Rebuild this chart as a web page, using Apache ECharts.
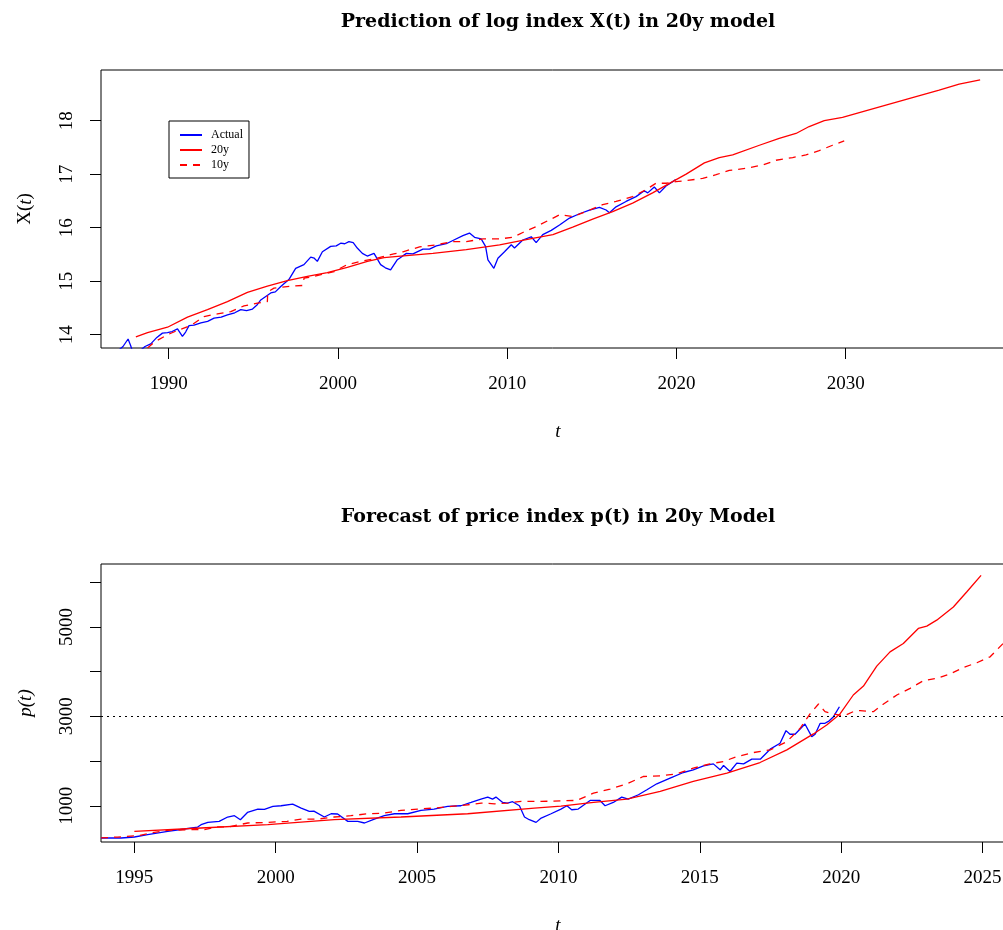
<!DOCTYPE html>
<html>
<head>
<meta charset="utf-8">
<script src="https://cdn.jsdelivr.net/npm/echarts@6/dist/echarts.min.js"></script>
<style>
html,body{margin:0;padding:0;background:#fff;overflow:hidden;}
#c{width:1003px;height:930px;}
</style>
</head>
<body>
<div id="c"></div>
<script>
// ---------- Top chart: log index X(t) ----------
const topActualT = [1987.0,1987.3,1987.6,1987.75,1987.9,1988.3,1988.6,1988.94,1989.3,1989.63,1989.93,1990.2,1990.52,1990.81,1991.0,1991.2,1991.5,1991.9,1992.3,1992.68,1993.1,1993.47,1993.9,1994.26,1994.6,1994.95,1995.2,1995.44,1996.03,1996.3,1996.62,1997.1,1997.5,1997.99,1998.39,1998.6,1998.78,1999.08,1999.57,1999.9,2000.16,2000.4,2000.65,2000.9,2001.14,2001.44,2001.73,2002.13,2002.52,2002.8,2003.11,2003.5,2003.64,2004.04,2004.43,2005.02,2005.41,2005.81,2006.4,2006.79,2007.38,2007.77,2008.07,2008.46,2008.72,2008.86,2009.21,2009.45,2009.84,2010.24,2010.43,2010.92,2011.42,2011.71,2012.1,2012.6,2013.09,2013.68,2014.27,2014.86,2015.45,2015.84,2016.04,2016.43,2017.02,2017.61,2018.1,2018.3,2018.69,2018.99,2019.38,2019.87,2019.95];
const topActualX = [13.70,13.78,13.92,13.80,13.65,13.70,13.78,13.83,13.95,14.03,14.04,14.06,14.11,13.97,14.05,14.17,14.18,14.22,14.25,14.31,14.33,14.37,14.41,14.47,14.45,14.48,14.55,14.65,14.78,14.80,14.90,15.03,15.24,15.31,15.45,15.43,15.37,15.55,15.65,15.66,15.71,15.70,15.74,15.72,15.62,15.52,15.47,15.52,15.31,15.25,15.21,15.40,15.43,15.52,15.51,15.60,15.60,15.66,15.70,15.76,15.85,15.90,15.82,15.79,15.65,15.40,15.24,15.43,15.55,15.68,15.62,15.77,15.83,15.72,15.87,15.95,16.05,16.18,16.26,16.33,16.38,16.33,16.28,16.39,16.49,16.58,16.69,16.65,16.76,16.65,16.78,16.88,16.90];

const top20T = [1988.06,1988.75,1989.93,1991.11,1992.29,1993.47,1994.65,1995.83,1997.01,1998.19,1999.37,2000.55,2001.74,2002.72,2003.7,2005.61,2007.58,2009.55,2011.5,2012.7,2013.87,2015.05,2016.23,2017.41,2018.59,2019.77,2020.57,2021.65,2022.53,2023.32,2024.9,2026.07,2027.06,2027.84,2028.73,2029.81,2030.8,2032.37,2033.94,2035.52,2036.7,2037.94];
const top20X = [13.96,14.04,14.14,14.33,14.47,14.62,14.79,14.91,15.01,15.09,15.16,15.26,15.37,15.44,15.47,15.52,15.59,15.68,15.80,15.87,16.01,16.16,16.30,16.46,16.65,16.86,17.00,17.21,17.31,17.36,17.54,17.67,17.76,17.89,18.00,18.06,18.15,18.29,18.43,18.57,18.68,18.76];

const top10T = [1988.75,1989.14,1989.93,1990.52,1991.3,1992.09,1992.88,1993.67,1994.45,1995.24,1995.83,1995.85,1996.22,1996.72,1997.27,1997.9,1998.0,1998.3,1999.77,2000.55,2001.34,2002.32,2003.3,2003.84,2004.82,2005.81,2006.79,2007.58,2008.56,2009.55,2010.33,2010.92,2011.71,2012.4,2013.09,2013.87,2014.66,2015.64,2016.43,2017.41,2018.2,2018.79,2019.38,2019.97,2020.57,2021.55,2022.34,2023.12,2024.11,2025.09,2025.88,2026.86,2027.65,2028.43,2029.22,2029.91];
const top10X = [13.75,13.86,14.00,14.08,14.17,14.34,14.39,14.43,14.54,14.59,14.62,14.80,14.87,14.89,14.91,14.92,15.06,15.07,15.18,15.31,15.37,15.43,15.51,15.55,15.64,15.68,15.74,15.74,15.79,15.79,15.82,15.91,16.02,16.13,16.24,16.21,16.30,16.43,16.49,16.58,16.71,16.83,16.83,16.86,16.88,16.92,16.99,17.07,17.11,17.17,17.26,17.31,17.36,17.44,17.54,17.62];

const topXTicks = [1990,2000,2010,2020,2030];
const topYTicks = [14,15,16,17,18];

// ---------- Bottom chart: price index p(t) ----------
const botActualT = [1993.82,1994.53,1995.0,1995.47,1996.18,1996.77,1997.24,1997.36,1997.6,1998.0,1998.3,1998.54,1998.75,1999.0,1999.37,1999.6,1999.9,2000.19,2000.6,2000.9,2001.19,2001.35,2001.72,2001.96,2002.19,2002.55,2002.9,2003.14,2003.49,2003.84,2004.2,2004.67,2005.14,2005.6,2006.08,2006.55,2006.91,2007.26,2007.5,2007.67,2007.79,2008.03,2008.2,2008.38,2008.62,2008.8,2008.97,2009.21,2009.39,2009.74,2010.09,2010.3,2010.47,2010.7,2011.12,2011.47,2011.65,2011.94,2012.24,2012.47,2012.83,2013.13,2013.48,2013.95,2014.42,2014.77,2015.13,2015.48,2015.72,2015.84,2016.07,2016.31,2016.55,2016.84,2017.14,2017.49,2017.84,2018.05,2018.19,2018.37,2018.72,2018.96,2019.08,2019.26,2019.43,2019.58,2019.73,2019.94];
const botActualP = [279,279,301,353,426,480,524,576,628,650,748,777,688,850,926,920,985,1000,1037,948,873,880,748,821,815,650,650,614,703,777,821,821,895,926,985,1000,1074,1149,1194,1149,1194,1074,1060,1090,1000,748,688,628,725,821,926,1000,911,926,1119,1119,1000,1074,1194,1149,1246,1357,1491,1618,1744,1804,1893,1937,1804,1900,1766,1953,1937,2042,2042,2266,2399,2681,2600,2600,2830,2547,2600,2845,2845,2900,2993,3216];

const bot20T = [1995.0,1997.36,1999.72,2002.07,2004.43,2006.79,2009.15,2010.09,2011.24,2012.42,2013.6,2014.77,2015.96,2017.13,2018.08,2019.02,2019.49,2019.96,2020.43,2020.79,2021.26,2021.73,2022.2,2022.73,2023.03,2023.38,2023.97,2024.44,2024.95];
const bot20P = [426,502,576,688,748,821,949,990,1074,1149,1320,1543,1729,1967,2250,2607,2808,3054,3478,3678,4125,4444,4631,4966,5018,5152,5448,5783,6156];

const bot10T = [1993.82,1994.4,1995.12,1995.7,1996.18,1996.89,1997.48,1997.9,1998.3,1999.01,1999.7,2000.4,2000.9,2001.5,2002.07,2002.66,2003.26,2003.84,2004.43,2005.02,2005.6,2006.2,2006.8,2007.27,2007.74,2008.2,2008.68,2009.39,2010.09,2010.65,2011.24,2011.83,2012.42,2013.0,2013.6,2014.18,2014.77,2015.36,2015.83,2016.31,2016.9,2017.49,2018.08,2018.55,2018.9,2019.2,2019.43,2019.73,2020.08,2020.43,2020.67,2021.14,2021.5,2021.97,2022.44,2022.91,2023.38,2023.85,2024.33,2024.8,2025.27,2025.73,2026.5];
const bot10P = [280,300,330,404,450,464,464,530,524,614,628,650,703,703,748,777,821,836,895,926,948,985,1022,1060,1044,1060,1097,1097,1110,1119,1283,1372,1491,1655,1670,1714,1841,1937,1989,2100,2190,2250,2435,2734,3054,3277,3105,3054,3009,3105,3130,3105,3277,3478,3627,3797,3850,3946,4096,4199,4333,4631,4950];

const botXTicks = [1995,2000,2005,2010,2015,2020,2025];
const botYTicks = [1000,2000,3000,4000,5000,6000];
const botYLabels = [1000,3000,5000];
const refLevel = 3000;

const titles = ['Prediction of log index X(t) in 20y model', 'Forecast of price index p(t) in 20y Model'];

// ---------- helpers ----------
const pairs = (a, b) => a.map((v, i) => [v, b[i]]);
const FONT = '"Liberation Serif", "DejaVu Serif", serif';
const TFONT = '"DejaVu Serif", serif';
const BLUE = '#0000FF', RED = '#FF0000';
const plain = v => String(v);

function xAxisCfg(grid, min, max, ticks) {
  return {
    type: 'value', gridIndex: grid, min: min, max: max,
    axisLine: { show: false },
    splitLine: { show: false },
    axisTick: { show: true, inside: false, length: 11, customValues: ticks, lineStyle: { color: '#000', width: 1 } },
    axisLabel: { customValues: ticks, formatter: plain, margin: 27, color: '#000', fontFamily: FONT, fontSize: 19, showMinLabel: true, showMaxLabel: true },
    name: 't', nameLocation: 'middle', nameGap: 74,
    nameTextStyle: { fontFamily: FONT, fontSize: 19, fontStyle: 'italic', color: '#000' }
  };
}
function yAxisCfg(grid, min, max, ticks, labels, name, rich) {
  return {
    type: 'value', gridIndex: grid, min: min, max: max,
    axisLine: { show: false },
    splitLine: { show: false },
    axisTick: { show: true, inside: false, length: 11, customValues: ticks, lineStyle: { color: '#000', width: 1 } },
    axisLabel: { customValues: labels, formatter: plain, margin: 24, rotate: 90, color: '#000', fontFamily: FONT, fontSize: 19, showMinLabel: true, showMaxLabel: true },
    name: name, nameLocation: 'middle', nameGap: 66, nameRotate: 90,
    nameTextStyle: { fontFamily: FONT, fontSize: 19, color: '#000', rich: rich }
  };
}
function line(name, data, xi, color, dashed) {
  return {
    name: name, type: 'line', xAxisIndex: xi, yAxisIndex: xi,
    data: data, showSymbol: false, symbol: 'none', clip: true,
    lineStyle: { color: color, width: 1.3, type: dashed ? [7, 6] : 'solid' },
    itemStyle: { color: color },
    animation: false, silent: true
  };
}

const chart = echarts.init(document.getElementById('c'), null, { renderer: 'canvas' });
chart.setOption({
  backgroundColor: '#fff',
  animation: false,
  graphic: [
    { type: 'text', x: 558, y: 22, style: { text: titles[0], font: 'bold 19px ' + TFONT, fill: '#000', align: 'center', verticalAlign: 'middle' } },
    { type: 'text', x: 558, y: 517, style: { text: titles[1], font: 'bold 19px ' + TFONT, fill: '#000', align: 'center', verticalAlign: 'middle' } }
  ],
  grid: [
    { left: 101, top: 70, width: 914, height: 278, show: true, borderColor: '#000', borderWidth: 1, outerBoundsMode: 'none', containLabel: false },
    { left: 101, top: 564, width: 914, height: 278, show: true, borderColor: '#000', borderWidth: 1, outerBoundsMode: 'none', containLabel: false }
  ],
  legend: {
    data: ['Actual', '20y', '10y'],
    orient: 'vertical', left: 169, top: 121,
    padding: [8, 6, 7, 10],
    itemWidth: 22, itemHeight: 10, itemGap: 3,
    borderColor: '#000', borderWidth: 1, backgroundColor: '#fff',
    itemStyle: { opacity: 0 },
    textStyle: { fontFamily: FONT, fontSize: 12, color: '#000', padding: [0, 0, 0, 4] },
    selectedMode: false
  },
  xAxis: [
    xAxisCfg(0, 1986, 2040, topXTicks),
    xAxisCfg(1, 1993.82, 2026.15, botXTicks)
  ],
  yAxis: [
    yAxisCfg(0, 13.752, 18.946, topYTicks, topYTicks, 'X({i|t})', { i: { fontFamily: FONT, fontSize: 19, fontStyle: 'italic', color: '#000' } }),
    yAxisCfg(1, 189, 6409, botYTicks, botYLabels, '{i|p(t)}', { i: { fontFamily: FONT, fontSize: 19, fontStyle: 'italic', color: '#000' } })
  ],
  series: [
    line('Actual', pairs(topActualT, topActualX), 0, BLUE, false),
    line('20y', pairs(top20T, top20X), 0, RED, false),
    line('10y', pairs(top10T, top10X), 0, RED, true),
    Object.assign(line('Actual', pairs(botActualT, botActualP), 1, BLUE, false), {
      markLine: {
        silent: true, symbol: ['none', 'none'], label: { show: false },
        lineStyle: { color: '#000', width: 1, type: [2, 4] },
        data: [{ yAxis: refLevel }]
      }
    }),
    line('20y', pairs(bot20T, bot20P), 1, RED, false),
    line('10y', pairs(bot10T, bot10P), 1, RED, true)
  ]
});
</script>
</body>
</html>
